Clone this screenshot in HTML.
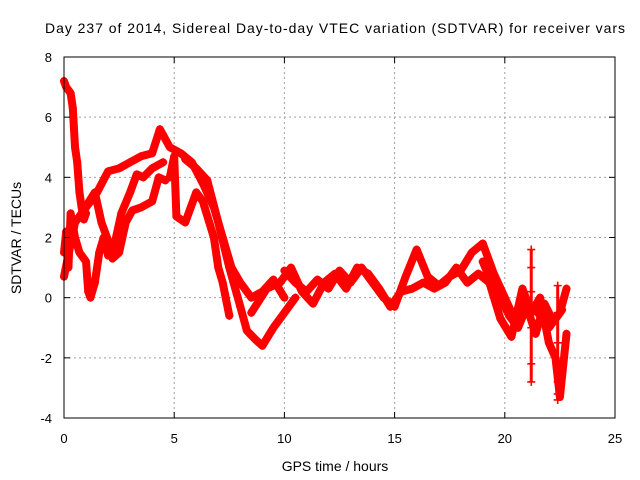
<!DOCTYPE html>
<html><head><meta charset="utf-8"><style>
body{margin:0;background:#fff}
svg{display:block;font-family:"Liberation Sans",sans-serif}
</style></head><body>
<svg id="chart" width="640" height="480">
<rect width="640" height="480" fill="#fff"/>
<text x="335" y="33" text-anchor="middle" font-size="14" textLength="580">Day 237 of 2014, Sidereal Day-to-day VTEC variation (SDTVAR) for receiver vars</text>
<g id="grid"></g>
<g id="series"></g>
<g id="axes"></g>
<text x="335" y="471" text-anchor="middle" font-size="14">GPS time / hours</text>
<text transform="translate(21,238) rotate(-90)" text-anchor="middle" font-size="14">SDTVAR / TECUs</text>
</svg>
<script>
const xTicks=[0,5,10,15,20,25];
const yTicks=[-4,-2,0,2,4,6,8];
const traceAx=[0,0.5,1,1.5,2,2.5,3,3.5,4,4.35,4.8,5.3,5.8,6.3,6.8,7.2,7.6,8,8.5,9,9.5,10];
const traceAy=[0.7,2.5,3,3.5,4.2,4.3,4.5,4.7,4.8,5.6,5.0,4.8,4.5,3.8,3.0,2.0,1.0,0.5,0,0.2,0.6,0];
const traceBx=[4.8,5.0,5.1,5.5,6.0,6.3,6.8,7.0,7.2,7.5];
const traceBy=[4.0,4.7,2.7,2.5,3.5,3.2,2.0,1.0,0.5,-0.6];
const traceCx=[5.5,6.0,6.5,7.0,7.5,8.0,8.3,8.7,9.0,9.5,10,10.5];
const traceCy=[4.6,4.3,3.9,2.5,1.0,-0.3,-1.1,-1.4,-1.6,-1.0,-0.5,0];
const traceDx=[10,10.5,11,11.5,12,12.5,13,13.5,14,14.5,15,15.5,16,16.5,17,17.5,18,18.5,19,19.5,20,20.5,21,21.5,22,22.5,22.8];
const traceDy=[0.9,0.5,0.2,0.6,0.3,0.9,0.5,1.0,0.5,0,-0.3,0.7,1.6,0.7,0.4,0.7,0.9,1.5,1.8,0.8,0,-0.8,-0.2,-0.5,-1.0,-0.5,0.3];
const traceEx=[8.5,9.2,9.8,10.3,10.8,11.3,11.8,12.3,12.8,13.3,13.8,14.3,14.8,15.3,15.8,16.3,16.8,17.3,17.8,18.3,18.8,19.3,19.8,20.3,20.8,21.2,21.6,22,22.3,22.5,22.8];
const traceEy=[-0.5,0.3,0.5,1.0,0.2,-0.2,0.5,0.8,0.3,1.0,0.8,0.3,-0.3,0.2,0.3,0.5,0.3,0.5,1.0,0.5,0.8,0.5,-0.7,-1.3,0.3,-0.5,0,-1.5,-2,-3.3,-1.2];
const traceFx=[0,0.1,0.2,0.3,0.5,0.7,1.0,1.1,1.2,1.4,1.6,1.8,2.0,2.3,2.6,3.0,3.3,3.6,4.0,4.5];
const traceFy=[1.5,2.2,1.0,2.8,2.0,1.5,1.2,0.2,0,0.5,1.5,2.0,1.4,1.8,2.8,3.5,4.1,4.0,4.3,4.5];
const traceGx=[0.8,1.4,1.7,2.0,2.2,2.5,2.8,3.1,3.5,4.0,4.3,4.6];
const traceGy=[2.8,3.5,2.5,1.9,1.3,1.5,2.5,2.9,3.0,3.2,4.0,3.9];
const traceHx=[0,0.1,0.2,0.3,0.4,0.5,0.6,0.7,0.8,0.9,1.0];
const traceHy=[7.2,7.0,6.9,6.8,6.3,5.0,4.5,3.5,3.0,2.6,2.8];
const traceIx=[19.0,19.4,19.8,20.2,20.6,21.0,21.4,21.8,22.2,22.6];
const traceIy=[1.2,0.5,0.0,-0.6,-1.0,-0.3,-1.2,-0.2,-0.8,-0.4];
const spikeX=[21.2,21.2,21.2,21.2,21.2,21.2,22.4,22.4,22.4,22.4,22.4,22.4,22.4];
const spikeY=[1.6,1.0,0.2,-1.0,-2.2,-2.8,0.4,-0.5,-1.5,-2.2,-2.8,-3.2,-3.4];
const traceXs=[traceAx,traceBx,traceCx,traceDx,traceEx,traceFx,traceGx,traceHx,traceIx];
const traceYs=[traceAy,traceBy,traceCy,traceDy,traceEy,traceFy,traceGy,traceHy,traceIy];
const NS="http://www.w3.org/2000/svg";
const L=64,R=615,T=57,B=418;
function sx(v){return L+(v-0)/(25-0)*(R-L);}
function sy(v){return B-(v+4)/(12)*(B-T);}
function mk(tag,attrs,parent){const e=document.createElementNS(NS,tag);for(const k in attrs)e.setAttribute(k,attrs[k]);parent.appendChild(e);return e;}
const grid=document.getElementById('grid'),axes=document.getElementById('axes'),ser=document.getElementById('series');
xTicks.forEach(t=>{
  if(t>0&&t<25){const g=mk('line',{x1:sx(t),x2:sx(t),y1:T,y2:B,stroke:'#a0a0a0','stroke-dasharray':'2,3'},grid);
  
  }
  const tk=mk('line',{x1:sx(t),x2:sx(t),y1:B,y2:B-6,stroke:'#000'},axes);
  
  
  const tk2=mk('line',{x1:sx(t),x2:sx(t),y1:T,y2:T+6,stroke:'#000'},axes);
  
  
  const lb=mk('text',{x:sx(t),y:443,'text-anchor':'middle','font-size':13},axes);lb.textContent=t;
  
  
});
yTicks.forEach(t=>{
  if(t>-4&&t<8){const g=mk('line',{x1:L,x2:R,y1:sy(t),y2:sy(t),stroke:'#a0a0a0','stroke-dasharray':'2,3'},grid);
  
  }
  const tk=mk('line',{x1:L,x2:L+6,y1:sy(t),y2:sy(t),stroke:'#000'},axes);
  
  
  const tk2=mk('line',{x1:R,x2:R-6,y1:sy(t),y2:sy(t),stroke:'#000'},axes);
  
  
  const lb=mk('text',{x:52,y:sy(t)+5,'text-anchor':'end','font-size':13},axes);lb.textContent=t;
  
  
});
const fr=mk('rect',{x:L,y:T,width:R-L,height:B-T,fill:'none',stroke:'#000'},axes);


function plus(x,y){const p=mk('path',{d:`M${x-4},${y}h8M${x},${y-4}v8`,stroke:'#f00','stroke-width':1.6},ser);
  
  }
traceXs.forEach((xs,i)=>{
  const ys=traceYs[i];
  const pts=xs.map((x,j)=>sx(x)+','+sy(ys[j])).join(' ');
  const pl=mk('polyline',{points:pts,fill:'none',stroke:'#f00','stroke-width':8,'stroke-linejoin':'round','stroke-linecap':'round'},ser);
  
  
  xs.forEach((x,j)=>plus(sx(x),sy(ys[j])));
});
const spikePts=spikeX.map((x,j)=>sx(x)+','+sy(spikeY[j]));
const sp1=mk('polyline',{points:spikePts.slice(0,6).join(' '),fill:'none',stroke:'#f00','stroke-width':3},ser);


const sp2=mk('polyline',{points:spikePts.slice(6).join(' '),fill:'none',stroke:'#f00','stroke-width':3},ser);


spikeX.forEach((x,j)=>plus(sx(x),sy(spikeY[j])));
</script>
</body></html>
